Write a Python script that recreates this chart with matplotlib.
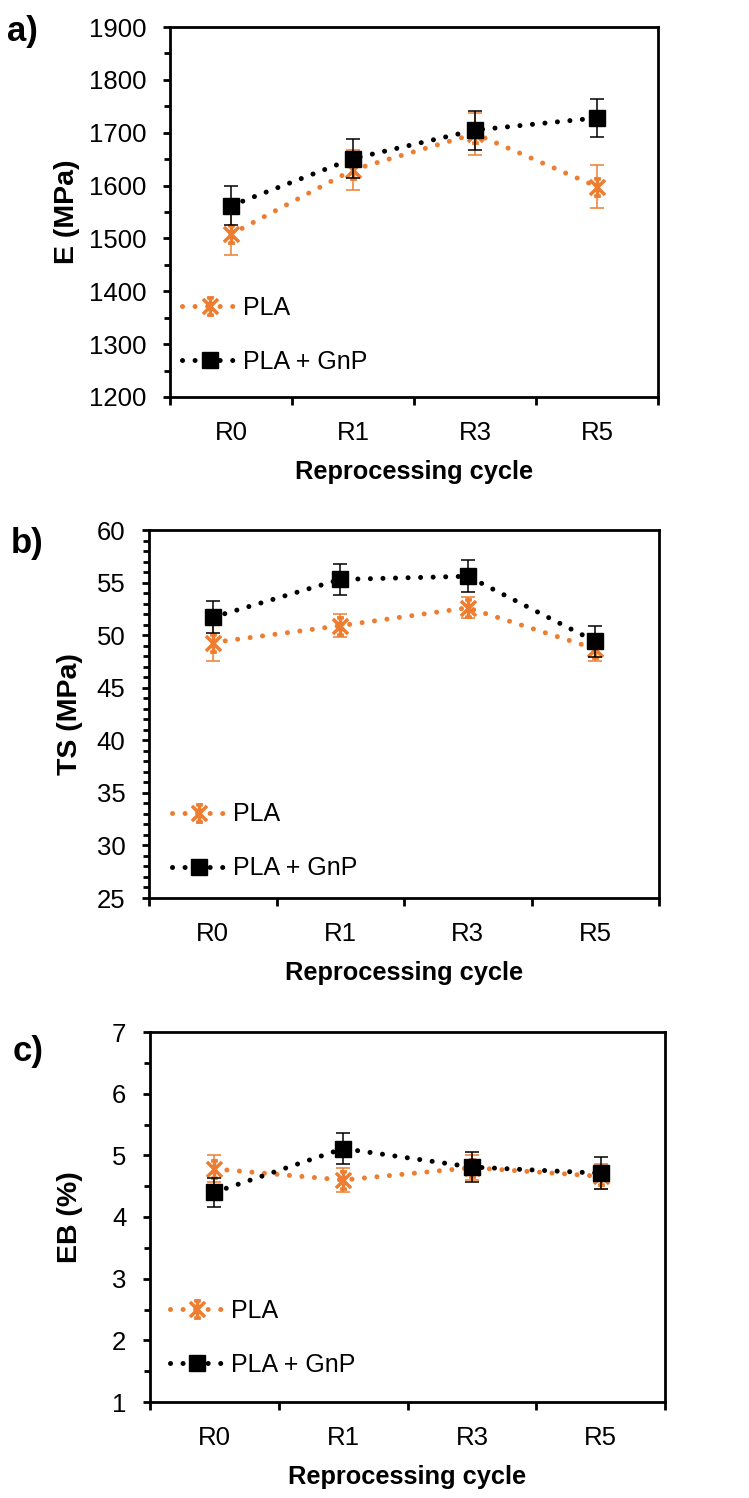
import numpy as np
import matplotlib.pyplot as plt
from matplotlib.path import Path
from matplotlib.ticker import MultipleLocator

plt.rcParams['font.family'] = ['Liberation Sans', 'DejaVu Sans']

''' DATOS '''
cycles = ["R0", "R1", "R3", "R5"]
series_labels = ["PLA", "PLA + GnP"]

e_pla = [1508, 1630, 1698, 1598]
e_pla_err = [40, 38, 40, 40]
e_gnp = [1562, 1651, 1705, 1728]
e_gnp_err = [37, 37, 37, 36]

ts_pla = [49.3, 50.9, 52.6, 48.7]
ts_pla_err = [1.8, 1.1, 1.0, 1.2]
ts_gnp = [51.7, 55.3, 55.6, 49.4]
ts_gnp_err = [1.5, 1.5, 1.5, 1.5]

eb_pla = [4.78, 4.60, 4.80, 4.66]
eb_pla_err = [0.22, 0.19, 0.20, 0.20]
eb_gnp = [4.40, 5.11, 4.81, 4.71]
eb_gnp_err = [0.23, 0.25, 0.24, 0.26]

''' ESTILO '''
orange = "#ED7D31"
fs_tick = 18.5
fs_leg = 18
fs_xlab = 18.3
fs_ylab = 20.5

# marcador estrella tipo Excel (X + barra vertical con remates)
star = Path(
    [(-1, -1), (1, 1), (-1, 1), (1, -1), (0, -1.15), (0, 1.15),
     (-0.45, 1.15), (0.45, 1.15), (-0.45, -1.15), (0.45, -1.15)],
    [Path.MOVETO, Path.LINETO] * 5,
)

dotted = (0, (0.01, 2.5))

paneles = [
    # (rect, datos, ylabel, ylim, major, minor, ylabel_x, legend anchor, letra, pos letra)
    ([170 / 749, 1 - 397 / 1498, 488 / 749, 370 / 1498],
     (e_pla, e_pla_err, e_gnp, e_gnp_err), "E (MPa)", (1200, 1900), 100, 50,
     -0.184, (0.025, 0.062), "a)", (7, 31)),
    ([149 / 749, 1 - 898 / 1498, 510 / 749, 368 / 1498],
     (ts_pla, ts_pla_err, ts_gnp, ts_gnp_err), "TS (MPa)", (25, 60), 5, 1,
     -0.129, (0.045, 0.048), "b)", (11, 543)),
    ([150 / 749, 1 - 1402 / 1498, 515 / 749, 370 / 1498],
     (eb_pla, eb_pla_err, eb_gnp, eb_gnp_err), "EB (%)", (1, 7), 1, 0.5,
     -0.130, (0.038, 0.068), "c)", (13, 1052)),
]

fig = plt.figure(figsize=(7.49, 14.98), dpi=100)
x = np.arange(len(cycles))

for rect, (pla, pla_err, gnp, gnp_err), ylab, ylim, maj, mnr, ylx, anchor, letra, lpos in paneles:
    ax = fig.add_axes(rect)

    # PLA
    ax.errorbar(x, pla, yerr=pla_err, fmt="none", ecolor=orange, elinewidth=1.1,
                capsize=5.2, capthick=1.1, zorder=2)
    ax.plot(x, pla, color=orange, lw=3.6, linestyle=dotted, dash_capstyle="round",
            marker=star, markersize=12.5, markeredgewidth=2.5, markeredgecolor=orange,
            label=series_labels[0], zorder=3)
    # PLA + GnP
    ax.errorbar(x, gnp, yerr=gnp_err, fmt="none", ecolor="black", elinewidth=1.1,
                capsize=5.2, capthick=1.1, zorder=4)
    ax.plot(x, gnp, color="black", lw=3.6, linestyle=dotted, dash_capstyle="round",
            marker="s", markersize=11.5, markeredgewidth=1, markerfacecolor="black",
            label=series_labels[1], zorder=5)

    # ejes
    ax.set_xlim(-0.5, len(cycles) - 0.5)
    ax.set_ylim(*ylim)
    ax.set_xticks(np.arange(len(cycles) + 1) - 0.5)
    ax.set_xticklabels([])
    ax.set_xticks(x, minor=True)
    ax.set_xticklabels(cycles, minor=True, fontsize=fs_tick)
    ax.tick_params(axis="x", which="major", direction="out", length=6, width=2)
    ax.tick_params(axis="x", which="minor", length=0, pad=17)

    ax.yaxis.set_major_locator(MultipleLocator(maj))
    ax.yaxis.set_minor_locator(MultipleLocator(mnr))
    ax.tick_params(axis="y", which="major", direction="out", length=5, width=2,
                   pad=12, labelsize=fs_tick)
    ax.tick_params(axis="y", which="minor", direction="out", length=4.5, width=2)
    for s in ax.spines.values():
        s.set_linewidth(2)

    ax.set_ylabel(ylab, fontsize=fs_ylab, fontweight="bold")
    ax.yaxis.set_label_coords(ylx, 0.5)
    ax.set_xlabel("Reprocessing cycle", fontsize=fs_xlab, fontweight="bold", labelpad=11)

    ax.legend(loc="lower left", bbox_to_anchor=anchor, frameon=False, fontsize=fs_leg,
              handlelength=2.2, handletextpad=0.25, labelspacing=1.2,
              borderpad=0, borderaxespad=0, numpoints=1)

    fig.text(lpos[0] / 749, 1 - lpos[1] / 1498, letra, fontsize=25,
             fontweight="bold", ha="left", va="center")

fig.savefig("out.png", dpi=100, facecolor="white")
